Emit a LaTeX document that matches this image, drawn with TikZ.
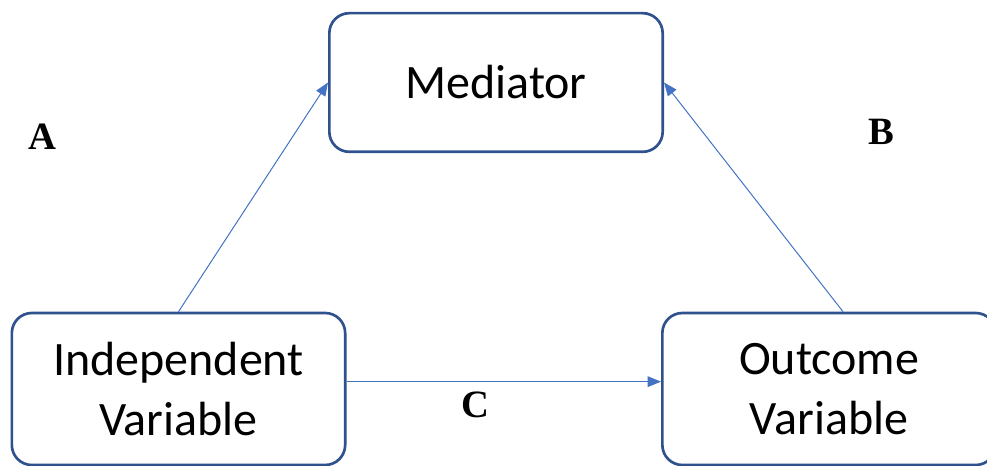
\documentclass[tikz,border=0pt]{standalone}
\usepackage{fontspec}
\setmainfont{Carlito}
\newfontfamily\labelfont{Liberation Serif}
\usetikzlibrary{arrows.meta}

\definecolor{boxblue}{RGB}{47,82,143}
\definecolor{arrowblue}{RGB}{68,114,196}

\tikzset{every picture/.style={line width=0.75pt}}
\tikzset{
  varbox/.style={draw=boxblue, line width=2pt, rounded corners=15pt, fill=white,
    minimum width=250pt, align=center, inner sep=0pt,
    font=\fontsize{36}{45}\selectfont},
  patharrow/.style={draw=arrowblue, line width=0.75pt, -{Triangle[length=10pt,width=8pt]}},
  pathlabel/.style={inner sep=0pt, font=\labelfont\bfseries\fontsize{29}{32}\selectfont}
}

\begin{document}
\begin{tikzpicture}[x=0.75pt,y=0.75pt,yscale=-1,xscale=1]
\useasboundingbox (0,0) rectangle (987,466);

% Boxes
\node [varbox, minimum height=104pt] (med) at (496,82.5) {Mediator};
\node [varbox, minimum height=114pt] (iv) at (178.5,389) {Independent\\Variable};
\node [varbox, minimum height=114pt] (ov) at (829,389) {Outcome\\Variable};

% Paths
\draw [patharrow] (iv.north) -- (med.west);
\draw [patharrow] ([xshift=10.5pt]ov.north) -- (med.east);
\draw [patharrow] ([yshift=-5.5pt]iv.east) -- ([yshift=-5.5pt]ov.west);

% Labels
\node [pathlabel] (lblA) at (42,137) {A};
\node [pathlabel] (lblB) at (881,132) {B};
\node [pathlabel] (lblC) at (475,405) {C};

\end{tikzpicture}
\end{document}
